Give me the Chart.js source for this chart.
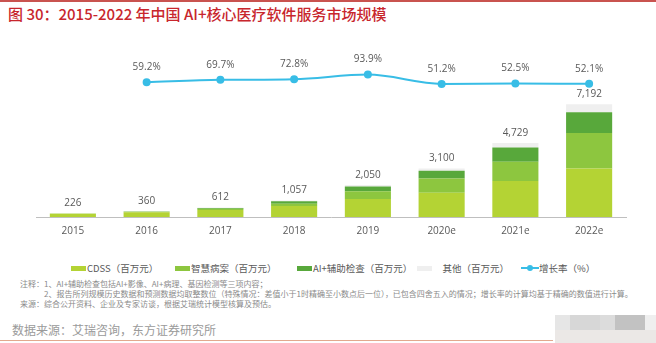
<!DOCTYPE html>
<html>
<head>
<meta charset="utf-8">
<script src="https://cdn.jsdelivr.net/npm/chart.js@4"></script>
<style>
  body { margin: 0; background: #fff; }
  #wrap { position: relative; width: 656px; height: 343px; overflow: hidden; font-family: "Noto Sans CJK SC", "Open Sans", sans-serif; }
  #topline { position: absolute; left: 0; top: 0; width: 656px; height: 2px; background: #c9534f; }
  #title { position: absolute; left: 8px; top: 3px; font-size: 15px; font-weight: 500; color: #c8262d; white-space: nowrap; }
  #chartbox { position: absolute; left: 0; top: 30px; width: 656px; height: 216px; }
  .leg { position: absolute; top: 262px; font-size: 9.5px; color: #595959; white-space: nowrap; line-height: 13px; }
  .sw { display: inline-block; width: 15px; height: 5px; vertical-align: middle; margin-right: 1px; position: relative; top: -1px; }
  .note { position: absolute; left: 20px; font-size: 8px; color: #8a8a8a; white-space: nowrap; }
  #src { position: absolute; left: 12px; top: 321px; font-size: 12px; color: #9a9a9a; white-space: nowrap; }
  #botline { position: absolute; left: 0; top: 340px; width: 553px; height: 1px; background: #e2a98e; }
  .blk { position: absolute; }
</style>
</head>
<body>
<div id="wrap">
  <div id="topline"></div>
  <div id="title">图 30：2015-2022 年中国 AI+核心医疗软件服务市场规模</div>
  <div id="chartbox"><canvas id="chart" width="656" height="216"></canvas></div>

  <div class="leg" style="left:71px"><span class="sw" style="background:#b4d334"></span>CDSS（百万元）</div>
  <div class="leg" style="left:175px"><span class="sw" style="background:#8dc63f"></span>智慧病案（百万元）</div>
  <div class="leg" style="left:297px"><span class="sw" style="background:#58a83b"></span>AI+辅助检查（百万元）</div>
  <div class="leg" style="left:417px"><span class="sw" style="background:#efefef"></span>　其他（百万元）</div>
  <div class="leg" style="left:521px"><span style="display:inline-block;position:relative;width:18px;height:6px;vertical-align:middle;top:-1px;"><span style="position:absolute;left:0;top:2px;width:18px;height:2px;background:#38bde6"></span><span style="position:absolute;left:6px;top:0;width:6px;height:6px;border-radius:3px;background:#38bde6"></span></span>增长率（%）</div>

  <div class="note" style="top:278px">注释：1、AI+辅助检查包括AI+影像、AI+病理、基因检测等三项内容；</div>
  <div class="note" style="top:288px">　　　2、报告所列规模历史数据和预测数据均取整数位（特殊情况：差值小于1时精确至小数点后一位），已包含四舍五入的情况；增长率的计算均基于精确的数值进行计算。</div>
  <div class="note" style="top:298px">来源：综合公开资料、企业及专家访谈，根据艾瑞统计模型核算及预估。</div>

  <div id="src">数据来源：艾瑞咨询，东方证券研究所</div>
  <div id="botline"></div>

  <div class="blk" style="left:555px;top:315px;width:15px;height:15px;background:#e6e6e6"></div>
  <div class="blk" style="left:570px;top:315px;width:30px;height:15px;background:#d7d7d7"></div>
  <div class="blk" style="left:600px;top:315px;width:15px;height:15px;background:#dcdcdc"></div>
  <div class="blk" style="left:615px;top:315px;width:30px;height:15px;background:#c2c2c2"></div>
  <div class="blk" style="left:645px;top:315px;width:11px;height:15px;background:#efefef"></div>
  <div class="blk" style="left:555px;top:330px;width:101px;height:13px;background:#ebe8e6"></div>
</div>

<script>
const years = ['2015', '2016', '2017', '2018', '2019', '2020e', '2021e', '2022e'];
const cdss = [200, 300, 450, 700, 1150, 1550, 2300, 3090];
const records = [20, 40, 80, 150, 500, 900, 1230, 2270];
const aiCheck = [3, 10, 50, 150, 300, 500, 900, 1325];
const others = [3, 10, 32, 57, 100, 150, 299, 507];
const totals = [226, 360, 612, 1057, 2050, 3100, 4729, 7192];
const growth = [null, 59.2, 69.7, 72.8, 93.9, 51.2, 52.5, 52.1];

const labelPlugin = {
  id: 'labels',
  afterDatasetsDraw(chart) {
    const c = chart.ctx;
    const x = chart.scales.x, y = chart.scales.y;
    c.save();
    c.fillStyle = '#595959';
    c.font = '10px "Open Sans", sans-serif';
    c.textAlign = 'center';
    c.textBaseline = 'middle';
    totals.forEach(function (t, i) {
      c.fillText(t.toLocaleString('en-US'), x.getPixelForValue(i), y.getPixelForValue(t) - 10);
    });
    const meta = chart.getDatasetMeta(4);
    meta.data.forEach(function (pt, i) {
      if (growth[i] == null) return;
      c.fillText(growth[i].toFixed(1) + '%', pt.x, pt.y - 15);
    });
    c.restore();
  }
};

const bar = { type: 'bar', yAxisID: 'y', stack: 's', barPercentage: 0.625, categoryPercentage: 1, order: 2 };

new Chart(document.getElementById('chart'), {
  data: {
    labels: years,
    datasets: [
      Object.assign({ label: 'CDSS（百万元）', data: cdss, backgroundColor: '#b4d334' }, bar),
      Object.assign({ label: '智慧病案（百万元）', data: records, backgroundColor: '#8dc63f' }, bar),
      Object.assign({ label: 'AI+辅助检查（百万元）', data: aiCheck, backgroundColor: '#58a83b' }, bar),
      Object.assign({ label: '其他（百万元）', data: others, backgroundColor: '#efefef' }, bar),
      {
        type: 'line', label: '增长率（%）', data: growth, yAxisID: 'y1', order: 1,
        borderColor: '#38bde6', backgroundColor: '#38bde6', borderWidth: 2,
        pointRadius: 3, pointHoverRadius: 3, cubicInterpolationMode: 'monotone', spanGaps: false
      }
    ]
  },
  options: {
    responsive: false,
    animation: false,
    events: [],
    layout: { padding: { left: 36, right: 30, top: 10, bottom: 1 } },
    plugins: { legend: { display: false }, tooltip: { enabled: false } },
    scales: {
      x: {
        grid: { display: false, drawTicks: false },
        border: { display: true, color: '#bfbfbf', width: 1 },
        ticks: { color: '#595959', font: { size: 10, family: '"Open Sans", sans-serif' }, padding: 8 }
      },
      y: { display: false, stacked: true, min: 0, max: 11300 },
      y1: { display: false, min: -561, max: 253 }
    }
  },
  plugins: [labelPlugin]
});
</script>
</body>
</html>
